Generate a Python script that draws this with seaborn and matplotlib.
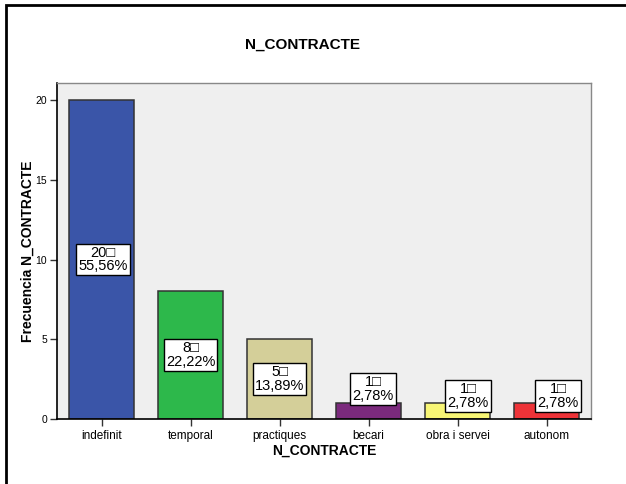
import pandas as pd
import matplotlib.pyplot as plt
import seaborn as sns
from matplotlib.patches import Rectangle

# Dades
categories = ['indefinit', 'temporal', 'practiques', 'becari', 'obra i servei', 'autonom']
frequencies = [20, 8, 5, 1, 1, 1]
percent_labels = ['55,56%', '22,22%', '13,89%', '2,78%', '2,78%', '2,78%']
colors = ['#3A55A8', '#2DB84B', '#D4CF99', '#7B2A7D', '#F8F675', '#EE3338']

df = pd.DataFrame({'N_CONTRACTE': categories, 'Frecuencia': frequencies})

sns.set_style('white')
plt.rcParams['font.family'] = ['Liberation Sans', 'DejaVu Sans']
plt.rcParams['text.color'] = 'black'
plt.rcParams['axes.labelcolor'] = 'black'
plt.rcParams['xtick.color'] = 'black'
plt.rcParams['ytick.color'] = 'black'

fig = plt.figure(figsize=(6.26, 4.84), dpi=100)
ax = fig.add_axes([57 / 626, 1 - 419 / 484, 534 / 626, 336 / 484])
ax.set_facecolor('#EFEFEF')

sns.barplot(data=df, x='N_CONTRACTE', y='Frecuencia', hue='N_CONTRACTE',
            palette=colors, saturation=1, width=0.74, edgecolor='#333333',
            linewidth=1.1, legend=False, ax=ax)

ax.set_xlim(-0.5, len(categories) - 0.5)
ax.set_ylim(0, 21.07)
ax.set_yticks([0, 5, 10, 15, 20])
ax.tick_params(axis='both', which='both', direction='out', length=5, width=1,
               color='#333333', labelsize=7.5, pad=2, bottom=True, left=True)
ax.tick_params(axis='x', labelsize=8.5, pad=3)

for side in ['left', 'bottom']:
    ax.spines[side].set_color('black')
    ax.spines[side].set_linewidth(1.2)
for side in ['right', 'top']:
    ax.spines[side].set_color('#888888')
    ax.spines[side].set_linewidth(1)

ax.set_xlabel('N_CONTRACTE', fontsize=10, fontweight='bold', labelpad=1)
ax.set_ylabel('Frecuencia N_CONTRACTE', fontsize=10, fontweight='bold')
ax.yaxis.set_label_coords(-22 / 534, 0.5)
fig.text(303 / 626, 1 - 45 / 484, 'N_CONTRACTE', ha='center', va='center',
         fontsize=11, fontweight='bold')

# etiquetes de cada barra
label_dx = [0.02, 0, 0, 0.05, 0.12, 0.13]
for i, (f, p) in enumerate(zip(frequencies, percent_labels)):
    y = f / 2 if f > 3 else (1.88 if i == 3 else 1.45)
    ax.text(i + label_dx[i], y, f'{f}\u25a1\n{p}', ha='center', va='center',
            multialignment='center', fontsize=10.5, linespacing=0.95,
            bbox=dict(boxstyle='square,pad=0.15', facecolor='white',
                      edgecolor='black', linewidth=1))

# marc exterior
fig.patches.append(Rectangle((6 / 626, -0.1), 1.2, 1 - 5 / 484 + 0.1,
                             transform=fig.transFigure, fill=False,
                             edgecolor='black', linewidth=2))

fig.savefig('out.png', dpi=100)
